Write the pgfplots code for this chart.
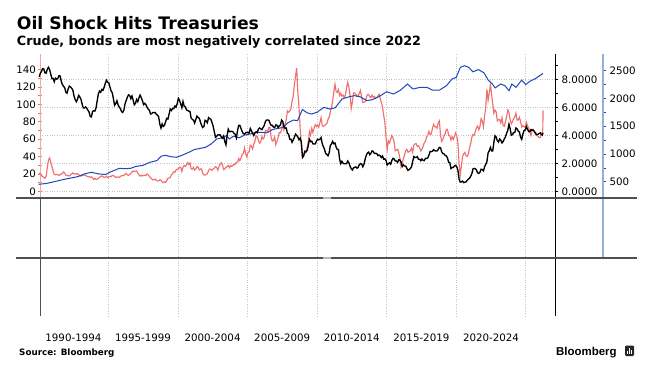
\documentclass[border=0pt]{standalone}
\usepackage{pgfplots}
\pgfplotsset{compat=1.18}
\usepackage{pgfplotstable}
\usepackage{fontspec}
\setmainfont{DejaVu Sans}
\newfontfamily\logofont{Liberation Sans}
\definecolor{oilred}{HTML}{F07070}
\definecolor{tsyblue}{HTML}{1F48BD}
\definecolor{pinkaxis}{HTML}{F4A6A6}
\definecolor{blueaxis}{HTML}{94AED6}
\definecolor{gridgray}{HTML}{C4C4C4}
\definecolor{panelgray}{HTML}{505050}
\newcommand\ticksize{\fontsize{10.3}{12}\selectfont}
\pgfplotsset{
  /pgf/number format/assume math mode=true,
  toppanel/.style={at={(40bp,172bp)}, anchor=south west, scale only axis,
    width=515bp, height=144bp, xmin=1990.1, xmax=2027.1, clip=false},
}
% US 10y yield, monthly from Jan 1990 to Dec 2025
\pgfplotstableread[row sep=\\]{
v\\
8.21\\8.47\\8.59\\8.79\\8.76\\8.48\\8.47\\8.75\\8.89\\8.72\\8.39\\8.08\\
8.09\\7.85\\8.11\\8.04\\8.07\\8.28\\8.27\\7.90\\7.65\\7.53\\7.42\\7.09\\
7.03\\7.34\\7.54\\7.48\\7.39\\7.26\\6.84\\6.59\\6.42\\6.59\\6.87\\6.77\\
6.60\\6.26\\5.98\\5.97\\6.04\\5.96\\5.81\\5.68\\5.36\\5.33\\5.72\\5.77\\
5.75\\5.97\\6.48\\6.97\\7.18\\7.10\\7.30\\7.24\\7.46\\7.74\\7.96\\7.81\\
7.78\\7.47\\7.20\\7.06\\6.63\\6.17\\6.28\\6.49\\6.20\\6.04\\5.93\\5.71\\
5.65\\5.81\\6.27\\6.51\\6.74\\6.91\\6.87\\6.64\\6.83\\6.53\\6.20\\6.30\\
6.58\\6.42\\6.69\\6.89\\6.71\\6.49\\6.22\\6.30\\6.21\\6.03\\5.88\\5.81\\
5.54\\5.57\\5.65\\5.64\\5.65\\5.50\\5.46\\5.34\\4.81\\4.53\\4.83\\4.65\\
4.72\\5.00\\5.23\\5.18\\5.54\\5.90\\5.79\\5.94\\5.92\\6.11\\6.03\\6.28\\
6.66\\6.52\\6.26\\5.99\\6.44\\6.10\\6.05\\5.83\\5.80\\5.74\\5.72\\5.24\\
5.16\\5.10\\4.89\\5.14\\5.39\\5.28\\5.24\\4.97\\4.73\\4.57\\4.65\\5.09\\
5.04\\4.91\\5.28\\5.21\\5.16\\4.93\\4.65\\4.26\\3.87\\3.94\\4.05\\4.03\\
4.05\\3.90\\3.81\\3.96\\3.57\\3.33\\3.98\\4.45\\4.27\\4.29\\4.30\\4.27\\
4.15\\4.08\\3.83\\4.35\\4.72\\4.73\\4.50\\4.28\\4.13\\4.10\\4.19\\4.23\\
4.22\\4.17\\4.50\\4.34\\4.14\\4.00\\4.18\\4.26\\4.20\\4.46\\4.54\\4.47\\
4.42\\4.57\\4.72\\4.99\\5.11\\5.11\\5.09\\4.88\\4.72\\4.73\\4.60\\4.56\\
4.76\\4.72\\4.56\\4.69\\4.75\\5.10\\5.00\\4.67\\4.52\\4.53\\4.15\\4.10\\
3.74\\3.74\\3.51\\3.68\\3.88\\4.10\\4.01\\3.89\\3.69\\3.81\\3.53\\2.42\\
2.52\\2.87\\2.82\\2.93\\3.29\\3.72\\3.56\\3.59\\3.40\\3.39\\3.40\\3.59\\
3.73\\3.69\\3.73\\3.85\\3.42\\3.20\\3.01\\2.70\\2.65\\2.54\\2.76\\3.29\\
3.39\\3.58\\3.41\\3.46\\3.17\\3.00\\3.00\\2.30\\1.98\\2.15\\2.01\\1.98\\
1.97\\1.97\\2.17\\2.05\\1.80\\1.62\\1.53\\1.68\\1.72\\1.75\\1.65\\1.72\\
1.91\\1.98\\1.96\\1.76\\1.93\\2.30\\2.58\\2.74\\2.81\\2.62\\2.72\\2.90\\
2.86\\2.71\\2.72\\2.71\\2.56\\2.60\\2.54\\2.42\\2.53\\2.30\\2.33\\2.21\\
1.88\\1.98\\2.04\\1.94\\2.20\\2.36\\2.32\\2.17\\2.17\\2.07\\2.26\\2.24\\
2.09\\1.78\\1.89\\1.81\\1.81\\1.64\\1.50\\1.56\\1.63\\1.76\\2.14\\2.49\\
2.43\\2.42\\2.48\\2.30\\2.30\\2.19\\2.32\\2.21\\2.20\\2.36\\2.35\\2.40\\
2.58\\2.86\\2.84\\2.87\\2.98\\2.91\\2.89\\2.89\\3.00\\3.15\\3.12\\2.83\\
2.71\\2.68\\2.57\\2.53\\2.40\\2.07\\2.06\\1.63\\1.70\\1.71\\1.81\\1.86\\
1.76\\1.50\\0.87\\0.66\\0.67\\0.73\\0.62\\0.65\\0.68\\0.79\\0.87\\0.93\\
1.08\\1.26\\1.61\\1.64\\1.62\\1.52\\1.32\\1.28\\1.37\\1.58\\1.56\\1.47\\
1.76\\1.93\\2.13\\2.75\\2.90\\3.14\\2.90\\2.90\\3.52\\3.98\\3.89\\3.62\\
3.53\\3.75\\3.66\\3.46\\3.57\\3.75\\3.90\\4.17\\4.38\\4.80\\4.50\\4.02\\
4.06\\4.21\\4.21\\4.54\\4.48\\4.31\\4.25\\3.87\\3.72\\4.10\\4.36\\4.39\\
4.63\\4.45\\4.28\\4.28\\4.42\\4.38\\4.39\\4.26\\4.12\\4.06\\4.09\\4.14\\
}\yieldtab
% Brent crude, monthly from Jan 1990 to Dec 2025
\pgfplotstableread[row sep=\\]{
v\\
21.25\\19.81\\18.39\\16.61\\16.35\\15.10\\17.17\\27.17\\35.92\\38.50\\33.07\\28.27\\
23.57\\19.54\\19.08\\19.18\\19.19\\18.17\\19.40\\19.77\\20.50\\22.21\\21.11\\18.41\\
18.16\\18.05\\17.63\\18.92\\19.89\\21.16\\20.23\\19.74\\20.27\\20.30\\19.13\\18.16\\
17.40\\18.53\\18.54\\18.60\\18.42\\17.45\\16.71\\16.79\\16.06\\16.65\\15.21\\13.69\\
14.87\\13.88\\13.66\\15.08\\16.24\\16.81\\17.82\\16.74\\15.94\\16.17\\17.34\\15.81\\
16.69\\17.20\\16.76\\18.39\\18.12\\17.14\\15.85\\16.38\\16.57\\16.02\\16.94\\17.97\\
18.01\\18.25\\19.81\\20.69\\18.89\\18.34\\19.64\\20.34\\22.61\\23.40\\22.63\\23.54\\
23.55\\20.80\\19.12\\17.50\\18.54\\17.68\\18.31\\18.54\\18.21\\19.93\\19.02\\17.23\\
15.53\\14.32\\13.05\\13.34\\14.15\\12.11\\12.00\\11.91\\13.33\\12.81\\10.94\\9.82\\
10.91\\10.35\\12.52\\15.17\\15.30\\15.88\\19.05\\20.26\\22.54\\22.04\\24.57\\25.60\\
25.51\\27.78\\27.49\\22.76\\27.74\\29.80\\28.68\\30.20\\33.14\\30.96\\32.55\\25.66\\
25.62\\27.50\\24.50\\25.66\\28.31\\27.85\\24.61\\25.68\\25.62\\20.54\\18.80\\18.71\\
19.42\\20.28\\23.70\\25.73\\25.35\\24.08\\25.74\\26.65\\28.40\\27.54\\24.34\\28.33\\
31.18\\32.77\\30.61\\25.00\\25.86\\27.65\\28.35\\29.89\\27.11\\29.61\\28.75\\29.81\\
31.28\\30.86\\33.63\\33.59\\37.57\\35.18\\38.22\\42.74\\43.20\\49.78\\43.11\\39.60\\
44.51\\45.48\\53.10\\51.88\\48.65\\54.35\\57.52\\63.98\\62.91\\58.54\\55.24\\56.86\\
62.99\\60.21\\62.06\\70.26\\69.78\\68.56\\73.67\\73.23\\61.96\\57.81\\58.76\\62.47\\
53.68\\57.56\\62.05\\67.49\\67.21\\71.05\\76.93\\70.76\\77.17\\82.34\\92.41\\90.93\\
92.18\\94.99\\103.64\\109.07\\122.80\\132.32\\142.00\\113.24\\97.23\\71.58\\52.45\\39.95\\
43.44\\43.32\\46.54\\50.18\\57.30\\68.61\\64.44\\72.51\\67.65\\72.77\\76.66\\74.46\\
76.17\\73.75\\78.83\\84.82\\75.95\\74.76\\75.58\\77.04\\77.84\\82.67\\85.28\\91.45\\
96.52\\103.72\\114.64\\123.26\\114.99\\113.83\\116.97\\110.22\\112.83\\109.55\\110.77\\107.87\\
110.69\\119.33\\125.45\\119.75\\110.34\\95.16\\102.62\\113.36\\112.86\\111.71\\109.06\\109.49\\
112.96\\116.05\\108.47\\102.25\\102.56\\102.92\\107.93\\111.28\\111.60\\109.08\\107.79\\110.76\\
108.12\\108.90\\107.48\\107.76\\109.54\\111.80\\106.77\\101.61\\97.09\\87.43\\79.44\\62.34\\
47.76\\58.10\\55.89\\59.52\\64.08\\61.48\\56.56\\46.52\\47.62\\48.43\\44.27\\38.01\\
28.00\\32.18\\38.21\\41.58\\46.74\\48.25\\44.95\\45.84\\46.57\\49.52\\44.73\\53.31\\
54.58\\54.87\\51.59\\52.31\\50.33\\46.37\\48.48\\51.70\\56.15\\57.51\\62.71\\64.37\\
69.08\\65.32\\66.02\\72.11\\76.98\\74.41\\74.25\\72.53\\78.89\\81.03\\64.75\\57.36\\
59.41\\63.96\\66.14\\71.23\\71.32\\64.22\\63.92\\59.04\\62.83\\59.71\\63.21\\67.31\\
63.65\\55.66\\32.01\\18.38\\29.38\\40.27\\43.24\\44.74\\40.91\\40.19\\42.69\\49.99\\
54.77\\62.28\\65.41\\64.81\\68.53\\73.16\\75.17\\70.75\\74.49\\83.54\\81.05\\74.17\\
86.51\\97.13\\117.25\\104.58\\113.34\\122.71\\111.93\\100.45\\89.76\\93.33\\91.42\\80.92\\
82.50\\82.59\\78.43\\84.64\\75.47\\74.84\\80.11\\86.15\\93.72\\90.60\\82.94\\77.63\\
80.12\\83.48\\85.41\\89.94\\81.75\\82.25\\85.15\\80.36\\74.02\\75.63\\74.35\\73.86\\
79.27\\75.44\\72.81\\68.01\\64.21\\71.44\\71.04\\68.12\\68.02\\64.06\\63.60\\61.50\\
}\brenttab
\begin{document}
\begin{tikzpicture}[x=1bp,y=1bp]
\path[use as bounding box] (0,0) rectangle (650,370);
\node[anchor=base west, inner sep=0] at (16.7,340.7) {\fontsize{17.3}{20}\selectfont\bfseries Oil Shock Hits Treasuries};
\node[anchor=base west, inner sep=0] at (16.7,325) {\fontsize{12.8}{15}\selectfont\bfseries Crude, bonds are most negatively correlated since 2022};

% grid
\begin{axis}[toppanel, ymin=-0.48, ymax=9.84, xtick={1995,2000,...,2025}, ytick={0,2,...,8},
  xticklabels={}, yticklabels={}, xmajorgrids, ymajorgrids,
  major grid style={gridgray, dotted, line width=0.6bp}, axis line style={draw=none},
  major tick length=0pt, minor tick length=0pt]
\addplot[draw=none] coordinates {(2000,1)};
\end{axis}

% red: crude, left axis
\begin{axis}[toppanel, ymin=-7.7, ymax=158, axis x line=none, axis y line*=left,
  ytick={0,20,...,140}, minor ytick={10,30,...,130},
  y axis line style={pinkaxis, line width=1bp},
  tick style={oilred, line width=0.6bp}, major tick length=4bp, minor tick length=4bp, tick align=center,
  yticklabel style={font=\ticksize, text=black, xshift=1.5bp}]
\addplot[oilred, line width=1.15bp] table[x expr=1990+(\coordindex+0.5)/12, y=v] {\brenttab};
\addplot[oilred, line width=1.15bp] coordinates {(2025.96,61.5) (2026.04,62) (2026.12,66) (2026.19,68) (2026.225,72) (2026.24,93)};
\end{axis}

% blue: Treasury index, right axis
\begin{axis}[toppanel, ymin=206, ymax=2801, hide axis]
\addplot[tsyblue, line width=1bp] coordinates {
(1990.0,452) (1990.6,470) (1991.2,505) (1991.8,540) (1992.3,565) (1992.8,590) (1993.3,640) (1993.8,670)
(1994.3,640) (1994.8,630) (1995.3,690) (1995.8,740) (1996.2,735) (1996.6,740) (1997.0,775) (1997.5,795)
(1998.0,850) (1998.5,880) (1998.8,960) (1999.1,975) (1999.5,950) (1999.9,940) (2000.3,975) (2000.8,1030)
(2001.2,1080) (2001.6,1100) (2002.0,1120) (2002.4,1180) (2002.8,1270) (2003.2,1290) (2003.5,1330) (2003.7,1270)
(2004.0,1320) (2004.4,1290) (2004.8,1340) (2005.2,1360) (2005.6,1390) (2006.0,1390) (2006.4,1380) (2006.8,1440)
(2007.2,1460) (2007.6,1480) (2007.9,1560) (2008.3,1610) (2008.6,1600) (2008.95,1800) (2009.3,1740) (2009.6,1720)
(2010.0,1750) (2010.5,1840) (2010.9,1810) (2011.3,1830) (2011.8,1990) (2012.3,2030) (2012.7,2050) (2013.1,2030)
(2013.6,1960) (2014.0,1980) (2014.5,2040) (2015.0,2120) (2015.5,2080) (2016.0,2150) (2016.5,2260) (2016.9,2170)
(2017.4,2200) (2017.9,2200) (2018.3,2150) (2018.8,2150) (2019.3,2230) (2019.7,2350) (2020.0,2380) (2020.3,2560)
(2020.6,2590) (2020.9,2560) (2021.2,2480) (2021.6,2520) (2022.0,2460) (2022.3,2330) (2022.6,2260) (2022.8,2190)
(2023.2,2260) (2023.5,2230) (2023.8,2140) (2024.0,2260) (2024.3,2200) (2024.7,2330) (2025.0,2250) (2025.3,2310)
(2025.7,2360) (2026.0,2410) (2026.24,2450)};
\end{axis}

% black: 10y yield, middle axis
\begin{axis}[toppanel, ymin=-0.48, ymax=9.84, axis x line=none, axis y line*=right,
  ytick={0,2,...,8}, minor ytick={1,3,...,9},
  y axis line style={black, line width=0.8bp},
  tick style={black, line width=0.6bp}, tick align=outside, major tick length=3bp, minor tick length=2.5bp,
  yticklabel style={font=\ticksize, /pgf/number format/fixed, /pgf/number format/fixed zerofill, /pgf/number format/precision=4}]
\addplot[black, line width=1.35bp] table[x expr=1990+(\coordindex+0.5)/12, y=v] {\yieldtab};
\addplot[black, line width=1.35bp] coordinates {(2025.96,4.14) (2026.04,4.19) (2026.12,4.06) (2026.19,4.02) (2026.24,4.20)};
\end{axis}

% right scale
\begin{axis}[at={(555bp,172bp)}, anchor=south west, scale only axis, width=48bp, height=144bp,
  xmin=0, xmax=1, ymin=206, ymax=2801, axis x line=none, axis y line*=right,
  ytick={500,1000,...,2500}, minor ytick={750,1250,...,2250},
  y axis line style={blueaxis, line width=1.3bp},
  tick style={tsyblue, line width=0.6bp}, tick align=outside, major tick length=3bp, minor tick length=2.5bp,
  yticklabel style={font=\ticksize, /pgf/number format/1000 sep={}}]
\addplot[draw=none] coordinates {(0.5,1000)};
\end{axis}

% lower panels
\begin{axis}[at={(40bp,54bp)}, anchor=south west, scale only axis, width=515bp, height=118bp,
  xmin=1990.1, xmax=2027.1, ymin=0, ymax=1, axis line style={draw=none}, ytick=\empty,
  xtick={1992.5,1997.5,2002.5,2007.5,2012.5,2017.5,2022.5},
  xticklabels={1990-1994,1995-1999,2000-2004,2005-2009,2010-2014,2015-2019,2020-2024},
  major tick length=0pt,
  extra x ticks={1995,2000,2005,2010,2015,2020,2025}, extra x tick labels={},
  extra x tick style={grid=major, major tick length=0pt},
  major grid style={gridgray, dotted, line width=0.6bp},
  xticklabel style={font=\ticksize, anchor=base, yshift=-25bp}]
\addplot[draw=none] coordinates {(2000,0.5)};
\end{axis}

\draw[panelgray, line width=1bp] (40,172) -- (40,54);
\draw[black, line width=0.8bp] (555,172) -- (555,54);
\draw[blueaxis, line width=1.3bp] (603,172) -- (603,112);
\draw[panelgray, line width=2.4bp] (16,172) -- (637,172);
\draw[panelgray, line width=2.4bp] (16,112) -- (637,112);
\draw[gray!55, line width=2.4bp] (323,172) -- (331,172);
\draw[gray!55, line width=2.4bp] (323,112) -- (331,112);

\node[anchor=base west, inner sep=0] at (19,14.5) {\fontsize{8.8}{10}\selectfont\bfseries Source: Bloomberg};
\node[anchor=base west, inner sep=0] at (556,15) {\logofont\fontsize{11.5}{13}\selectfont\bfseries Bloomberg};
\fill[black!85, rounded corners=1.2bp] (625,14) rectangle (634,24.5);
\fill[white] (627,16) rectangle (628,19.5);
\fill[white] (629.2,16) rectangle (630.2,22);
\fill[white] (631.4,16) rectangle (632.4,20.5);
\end{tikzpicture}
\end{document}
